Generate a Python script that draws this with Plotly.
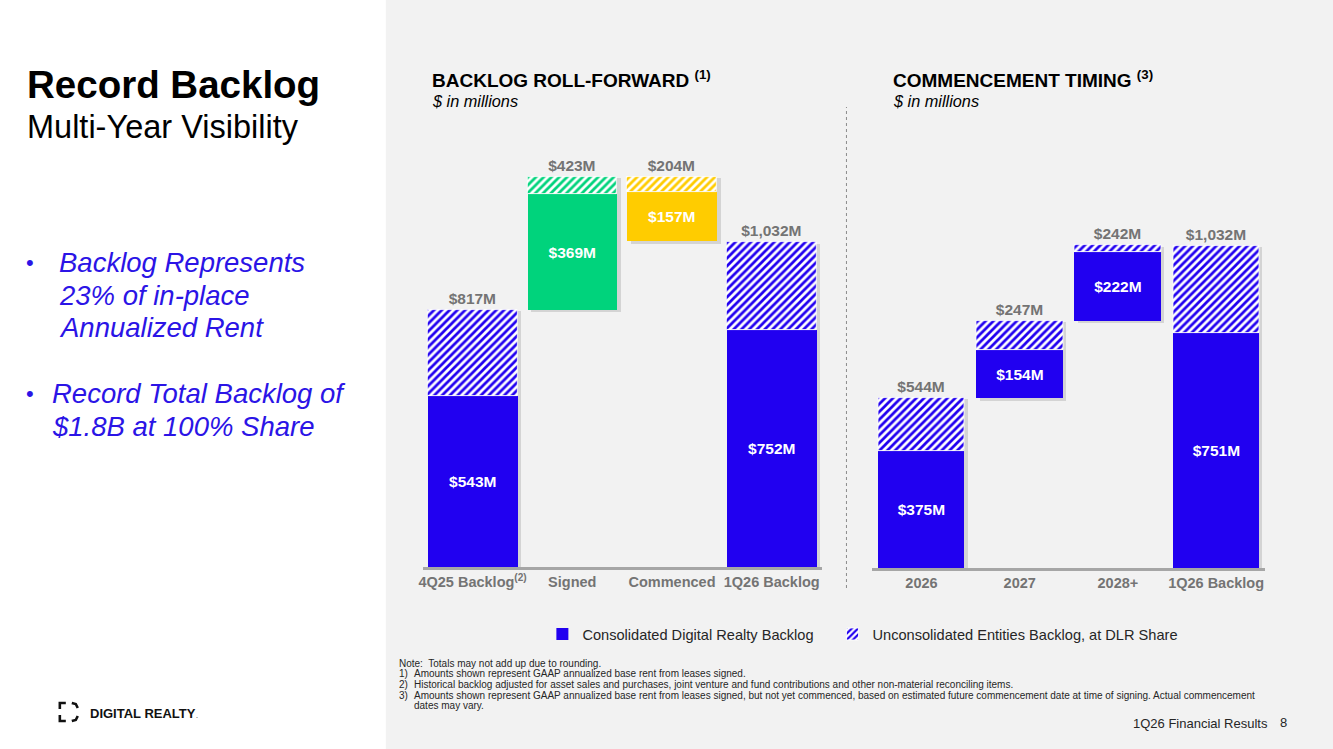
import plotly.graph_objects as go

W, H = 1333, 749


def px(x):
    return x / W


def py(y):
    return 1 - y / H


# ---------------- data ----------------
rf_categories = ["4Q25 Backlog<sup>(2)</sup>", "Signed", "Commenced", "1Q26 Backlog"]
rf_consolidated = [543, 369, 157, 752]
rf_unconsolidated = [274, 54, 47, 280]
rf_totals = [817, 423, 204, 1032]

ct_categories = ["2026", "2027", "2028+", "1Q26 Backlog"]
ct_consolidated = [375, 154, 222, 751]
ct_unconsolidated = [169, 93, 20, 281]
ct_totals = [544, 247, 242, 1032]

# ---------------- styles ----------------
BLUE = "#2100F0"
GREEN = "#00D37C"
YELLOW = "#FFCC00"
GREY_TXT = "#747474"
FONT = "Arial, Liberation Sans, sans-serif"
SHADOW = "rgba(0,0,0,0.12)"

rf_colors = [BLUE, GREEN, YELLOW, BLUE]
ct_colors = [BLUE, BLUE, BLUE, BLUE]

# waterfall bases computed from the data
start_total = rf_totals[0]
after_signed = start_total + rf_totals[1]
rf_base = [0, start_total, after_signed - rf_totals[2], 0]
rf_hatch_base = [b + c for b, c in zip(rf_base, rf_consolidated)]

ct_base = [0]
for t in ct_totals[:2]:
    ct_base.append(ct_base[-1] + t)
ct_base.append(0)
ct_hatch_base = [b + c for b, c in zip(ct_base, ct_consolidated)]


def money(v):
    return f"<b>${v:,}M</b>"


def shadow_trace(totals, bases, width, xa, ya):
    drop = 8  # shadow drop in value units (~2.5px)
    sb = [b - drop if b > 0 else b for b in bases]
    sy = [t + (b - s) - 4 for t, b, s in zip(totals, bases, sb)]
    return go.Bar(x=list(range(4)), y=sy, base=sb, width=width,
                  offset=-width / 2 + 0.035,
                  marker=dict(color=SHADOW, line=dict(width=0)),
                  showlegend=False, xaxis=xa, yaxis=ya, hoverinfo="skip")


fig = go.Figure()

# ---- left chart: roll-forward ----
fig.add_trace(shadow_trace(rf_totals, rf_base, 0.9, "x", "y"))
fig.add_trace(go.Bar(
    x=list(range(4)), y=rf_consolidated, base=rf_base,
    marker=dict(color=rf_colors, line=dict(width=0)),
    width=0.9, text=[money(v) for v in rf_consolidated],
    textposition="inside", insidetextanchor="middle",
    textfont=dict(color="white", size=15.5, family=FONT),
    showlegend=False, xaxis="x", yaxis="y", hoverinfo="skip",
))
fig.add_trace(go.Bar(
    x=list(range(4)), y=rf_unconsolidated, base=rf_hatch_base,
    marker=dict(color="white", line=dict(width=0.8, color="white"),
                pattern=dict(shape="/", fgcolor=rf_colors, bgcolor="white",
                             size=5.5, solidity=0.5, fillmode="replace")),
    width=0.9, text=[money(v) for v in rf_totals], textposition="outside",
    outsidetextfont=dict(color=GREY_TXT, size=15.5, family=FONT),
    cliponaxis=False, showlegend=False, xaxis="x", yaxis="y", hoverinfo="skip",
))

# ---- right chart: commencement timing ----
fig.add_trace(shadow_trace(ct_totals, ct_base, 0.88, "x2", "y2"))
fig.add_trace(go.Bar(
    x=list(range(4)), y=ct_consolidated, base=ct_base,
    marker=dict(color=ct_colors, line=dict(width=0)),
    width=0.88, text=[money(v) for v in ct_consolidated],
    textposition="inside", insidetextanchor="middle",
    textfont=dict(color="white", size=15.5, family=FONT),
    name="Consolidated Digital Realty Backlog", showlegend=True, legend="legend",
    xaxis="x2", yaxis="y2", hoverinfo="skip",
))
fig.add_trace(go.Bar(
    x=list(range(4)), y=ct_unconsolidated, base=ct_hatch_base,
    marker=dict(color="white", line=dict(width=0.8, color="white"),
                pattern=dict(shape="/", fgcolor=BLUE, bgcolor="white",
                             size=5.5, solidity=0.5, fillmode="replace")),
    width=0.88, text=[money(v) for v in ct_totals], textposition="outside",
    outsidetextfont=dict(color=GREY_TXT, size=15.5, family=FONT),
    cliponaxis=False,
    name="Unconsolidated Entities Backlog, at DLR Share", showlegend=True,
    legend="legend2", xaxis="x2", yaxis="y2", hoverinfo="skip",
))

axis_common = dict(
    range=[-0.5, 3.5], tickmode="array", tickvals=list(range(4)),
    showline=True, linecolor="#A6A6A6", linewidth=3, ticks="",
    showgrid=False, zeroline=False, fixedrange=True, layer="above traces",
    tickfont=dict(color=GREY_TXT, size=14.5, family=FONT),
)
yaxis_common = dict(range=[0, 1300], visible=False, showgrid=False,
                    zeroline=False, fixedrange=True)

legend_common = dict(orientation="h", xanchor="left", yanchor="middle",
                     font=dict(size=14.6, color="#262626", family=FONT),
                     bgcolor="rgba(0,0,0,0)", itemclick=False,
                     itemdoubleclick=False)

fig.update_layout(
    width=W, height=H, margin=dict(l=0, r=0, t=0, b=0),
    paper_bgcolor="white", plot_bgcolor="rgba(0,0,0,0)",
    barmode="overlay", bargap=0,
    font=dict(family=FONT, color="#262626"),
    xaxis=dict(domain=[px(420), px(820)], anchor="y",
               ticktext=[f"<b>{c}</b>" for c in rf_categories], **axis_common),
    yaxis=dict(domain=[py(567), py(158)], anchor="x", **yaxis_common),
    xaxis2=dict(domain=[px(871), px(1265)], anchor="y2",
                ticktext=[f"<b>{c}</b>" for c in ct_categories], **axis_common),
    yaxis2=dict(domain=[py(568), py(162)], anchor="x2", **yaxis_common),
    legend=dict(x=px(540), y=py(634), **legend_common),
    legend2=dict(x=px(831), y=py(634), **legend_common),
    showlegend=True,
)

shapes = [
    dict(type="rect", xref="paper", yref="paper", x0=px(383), x1=1, y0=0, y1=1,
         fillcolor="#F2F2F2", line=dict(width=0), layer="below"),
    dict(type="line", xref="paper", yref="paper", x0=px(845), x1=px(845),
         y0=py(588), y1=py(107), line=dict(color="#8C8C8C", width=1, dash="dot")),
]


def path(points):
    return "M " + " L ".join(f"{px(x):.5f},{py(y):.5f}" for x, y in points)


for pts in [
    [(56, 709), (56, 703), (62, 703)],
    [(56, 715), (56, 721), (62, 721)],
    [(68, 703), (72, 704), (74, 708)],
    [(68, 721), (72, 720), (74, 716)],
]:
    shapes.append(dict(type="path", xref="paper", yref="paper", path=path(pts),
                       line=dict(color="#111111", width=2.6)))
fig.update_layout(shapes=shapes)

ann = []


def text(x, y, s, size, color="#000000", xanchor="left", family=FONT):
    ann.append(dict(x=px(x), y=py(y), xref="paper", yref="paper", text=s,
                    showarrow=False, xanchor=xanchor, yanchor="middle",
                    font=dict(size=size, color=color, family=family)))


text(21, 84, "<b>Record Backlog</b>", 38.5)
text(21, 127, "Multi-Year Visibility", 32.5)

BUL = "#2B14E6"
text(20, 262, "•", 22, BUL)
text(53, 262, "<i>Backlog Represents</i>", 27.5, BUL)
text(53, 295, "<i>23% of in-place</i>", 27.5, BUL)
text(53, 327, "<i>Annualized Rent</i>", 27.5, BUL)
text(20, 393, "•", 22, BUL)
text(46, 393, "<i>Record Total Backlog of</i>", 27.5, BUL)
text(46, 426, "<i>$1.8B at 100% Share</i>", 27.5, BUL)

text(84, 713, "<b>DIGITAL REALTY</b>", 13, "#111111")
text(191, 715, ".", 7, "#111111")

text(427, 79, "<b>BACKLOG ROLL-FORWARD <sup>(1)</sup></b>", 19)
text(427, 101, "<i>$ in millions</i>", 16.3)
text(890, 79, "<b>COMMENCEMENT TIMING <sup>(3)</sup></b>", 19)
text(890, 101, "<i>$ in millions</i>", 16.3)

NARROW = "Liberation Sans Narrow, Arial Narrow, Arial, sans-serif"
NOTE = "#262626"
text(394, 663, "Note:  Totals may not add up due to rounding.", 10, NOTE, family=NARROW)
notes = [
    (673, "1)", "Amounts shown represent GAAP annualized base rent from leases signed."),
    (684, "2)", "Historical backlog adjusted for asset sales and purchases, joint venture and fund contributions and other non-material reconciling items."),
    (695, "3)", "Amounts shown represent GAAP annualized base rent from leases signed, but not yet commenced, based on estimated future commencement date at time of signing. Actual commencement"),
]
for y, n, s in notes:
    text(394, y, n, 10, NOTE, family=NARROW)
    text(409, y, s, 10, NOTE, family=NARROW)
text(409, 705, "dates may vary.", 10, NOTE, family=NARROW)

text(1270, 723, "1Q26 Financial Results", 13, "#262626", xanchor="right")
text(1283, 722, "8", 13, "#262626", xanchor="center")

fig.update_layout(annotations=ann)

fig.write_html("out.html")
